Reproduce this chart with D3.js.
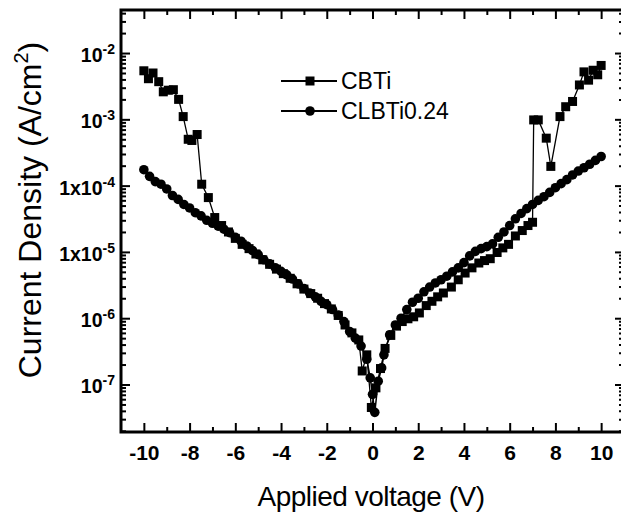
<!DOCTYPE html>
<html>
<head>
<meta charset="utf-8">
<script src="https://cdn.jsdelivr.net/npm/d3@7"></script>
<style>
  html, body { margin: 0; padding: 0; background: #fff; }
  svg { display: block; font-family: "Liberation Sans", Arial, sans-serif; }
</style>
</head>
<body>
<svg id="chart" width="621" height="515"></svg>
<script>
// ---------------- data ----------------
const cbtiV = [-10, -9.8, -9.6, -9.35, -9.15, -8.93, -8.71, -8.48, -8.28, -8.06, -7.9, -7.67, -7.47, -7.18, -6.9,
  -6.6, -6.3, -6.0, -5.7, -5.4, -5.1, -4.8, -4.5, -4.2, -3.9, -3.6, -3.3, -3.0, -2.7, -2.4, -2.1, -1.8, -1.5,
  -1.2, -0.9, -0.6, -0.45, -0.25, -0.05, 0.15, 0.35, 0.55, 0.8, 1.05, 1.3, 1.55, 1.8, 2.05, 2.35, 2.6, 2.85,
  3.1, 3.45, 3.75, 4.05, 4.35, 4.65, 4.9, 5.15, 5.45, 5.7, 5.95, 6.25, 6.55, 6.8, 7.0, 7.05, 7.25, 7.6, 7.8,
  8.2, 8.45, 8.75, 9.05, 9.25, 9.45, 9.65, 9.85, 10.0];
const cbtiJ = [5.4e-3, 4.1e-3, 5.0e-3, 3.7e-3, 2.6e-3, 2.75e-3, 2.8e-3, 2.0e-3, 1.1e-3, 5.0e-4, 4.8e-4, 5.9e-4, 1.05e-4, 6.6e-5, 3.3e-5,
  2.5e-5, 2.0e-5, 1.6e-5, 1.3e-5, 1.12e-5, 9.3e-6, 7.6e-6, 6.5e-6, 5.5e-6, 4.7e-6, 4.0e-6, 3.3e-6, 2.75e-6, 2.35e-6, 2.0e-6, 1.66e-6, 1.38e-6, 1.1e-6,
  7.9e-7, 6.0e-7, 4.7e-7, 1.6e-7, 2.8e-7, 4.5e-8, 8.9e-8, 1.74e-7, 3.5e-7, 5.5e-7, 7.6e-7, 8.9e-7, 9.8e-7, 1.05e-6, 1.2e-6, 1.55e-6, 1.8e-6, 2.1e-6,
  2.4e-6, 2.95e-6, 3.8e-6, 4.8e-6, 5.75e-6, 6.8e-6, 7.4e-6, 7.9e-6, 9.8e-6, 1.15e-5, 1.3e-5, 1.74e-5, 2.1e-5, 2.5e-5, 2.8e-5, 9.8e-4, 9.8e-4, 5.2e-4, 1.95e-4,
  1.1e-3, 1.55e-3, 1.86e-3, 3.3e-3, 5.2e-3, 3.9e-3, 5.5e-3, 4.7e-3, 6.5e-3];

const clbtiV = [-10, -9.75, -9.5, -9.25, -9.0, -8.75, -8.5, -8.25, -8.0, -7.75, -7.5, -7.25, -7.0, -6.75, -6.5, -6.25,
  -6.0, -5.75, -5.5, -5.25, -5.0, -4.75, -4.5, -4.25, -4.0, -3.75, -3.5, -3.25, -3.0, -2.75, -2.5, -2.25, -2.0,
  -1.75, -1.5, -1.25, -1.0, -0.75, -0.5, -0.25, -0.1, 0.0, 0.1, 0.25, 0.4, 0.5, 0.75, 1.0, 1.25, 1.5, 1.75, 2.0,
  2.25, 2.5, 2.75, 3.0, 3.25, 3.5, 3.75, 4.0, 4.25, 4.5, 4.75, 5.0, 5.25, 5.5, 5.75, 6.0, 6.25, 6.5, 6.75, 7.0,
  7.25, 7.5, 7.75, 8.0, 8.25, 8.5, 8.75, 9.0, 9.25, 9.5, 9.75, 10.0];
const clbtiJ = [1.74e-4, 1.38e-4, 1.15e-4, 1.05e-4, 8.9e-5, 7.1e-5, 6.2e-5, 5.2e-5, 4.6e-5, 3.9e-5, 3.5e-5, 3.0e-5, 2.7e-5, 2.45e-5, 2.2e-5, 1.95e-5,
  1.66e-5, 1.45e-5, 1.23e-5, 1.05e-5, 9.1e-6, 7.6e-6, 6.6e-6, 5.75e-6, 5.1e-6, 4.5e-6, 3.9e-6, 3.3e-6, 2.8e-6, 2.4e-6, 2.1e-6, 1.8e-6, 1.6e-6,
  1.35e-6, 1.12e-6, 8.9e-7, 6.3e-7, 5.0e-7, 3.8e-7, 2.4e-7, 1.26e-7, 7.1e-8, 3.8e-8, 1.12e-7, 1.78e-7, 2.8e-7, 5.6e-7, 7.9e-7, 1.0e-6, 1.35e-6, 1.74e-6, 2.0e-6,
  2.5e-6, 2.95e-6, 3.4e-6, 3.8e-6, 4.3e-6, 5.0e-6, 5.75e-6, 6.9e-6, 8.7e-6, 1.02e-5, 1.12e-5, 1.2e-5, 1.32e-5, 1.66e-5, 2.0e-5, 2.5e-5, 3.16e-5, 3.8e-5, 4.5e-5, 5.2e-5,
  6.0e-5, 6.8e-5, 7.9e-5, 9.3e-5, 1.07e-4, 1.23e-4, 1.45e-4, 1.66e-4, 1.86e-4, 2.1e-4, 2.4e-4, 2.75e-4];

const seriesNames = ["CBTi", "CLBTi0.24"];

const xMajorTicks = [-10, -8, -6, -4, -2, 0, 2, 4, 6, 8, 10];
const xMinorTicks = [-9, -7, -5, -3, -1, 1, 3, 5, 7, 9];
const yMajorTicks = [1e-2, 1e-3, 1e-4, 1e-5, 1e-6, 1e-7];
const yTickBase = ["10", "10", "1x10", "1x10", "10", "10"];
const yTickExp = ["-2", "-3", "-4", "-5", "-6", "-7"];
const xTitle = "Applied voltage (V)";
const yTitle = "Current Density (A/cm";

// ---------------- layout ----------------
const svg = d3.select("#chart");
const L = 121, R = 624, T = 10, B = 432;
const x = d3.scaleLinear().domain([-11, 11]).range([L, R]);
const y = d3.scaleLog().domain([1.92e-8, 4.46e-2]).range([B, T]);

const yMinor = [];
[-9, -8, -7, -6, -5, -4, -3, -2].forEach(e => {
  for (let m = 2; m <= 9; m++) {
    const v = m * Math.pow(10, e);
    if (v > y.domain()[0] && v < y.domain()[1]) yMinor.push(v);
  }
});

function styleAxis(g) {
  g.select(".domain").remove();
  g.selectAll(".tick line").attr("stroke", "#000").attr("stroke-width", 2);
}

// minor ticks
svg.append("g").attr("transform", `translate(0,${B})`)
  .call(d3.axisBottom(x).tickValues(xMinorTicks).tickSize(-5).tickFormat(""))
  .call(styleAxis);
svg.append("g").attr("transform", `translate(0,${T})`)
  .call(d3.axisTop(x).tickValues(xMinorTicks).tickSize(-5).tickFormat(""))
  .call(styleAxis);
svg.append("g").attr("transform", `translate(${L},0)`)
  .call(d3.axisLeft(y).tickValues(yMinor).tickSize(-5).tickFormat(""))
  .call(styleAxis);
svg.append("g").attr("transform", `translate(${R},0)`)
  .call(d3.axisRight(y).tickValues(yMinor).tickSize(-5).tickFormat(""))
  .call(styleAxis);

// major ticks
const xb = svg.append("g").attr("transform", `translate(0,${B})`)
  .call(d3.axisBottom(x).tickValues(xMajorTicks).tickSize(-9).tickPadding(13).tickFormat(d => String(d)))
  .call(styleAxis);
xb.selectAll("text").attr("fill", "#000").attr("font-size", 21).attr("font-weight", "bold")
  .attr("font-family", "Liberation Sans, Arial, sans-serif");
svg.append("g").attr("transform", `translate(0,${T})`)
  .call(d3.axisTop(x).tickValues(xMajorTicks).tickSize(-9).tickFormat(""))
  .call(styleAxis);
svg.append("g").attr("transform", `translate(${L},0)`)
  .call(d3.axisLeft(y).tickValues(yMajorTicks).tickSize(-9).tickFormat(""))
  .call(styleAxis);
svg.append("g").attr("transform", `translate(${R},0)`)
  .call(d3.axisRight(y).tickValues(yMajorTicks).tickSize(-9).tickFormat(""))
  .call(styleAxis);

// y tick labels with superscripts
const yl = svg.append("g").attr("font-weight", "bold").attr("fill", "#000");
yMajorTicks.forEach((v, i) => {
  const t = yl.append("text").attr("x", 115).attr("y", y(v) + 9).attr("text-anchor", "end");
  t.append("tspan").attr("font-size", 19.5).text(yTickBase[i]);
  t.append("tspan").attr("font-size", 14).attr("dy", -8).text(yTickExp[i]);
});

// frame
svg.append("rect").attr("x", L).attr("y", T).attr("width", R - L).attr("height", B - T)
  .attr("fill", "none").attr("stroke", "#000").attr("stroke-width", 3);

// data
const plot = svg.append("g");
const line = d3.line().x(d => x(d[0])).y(d => y(d[1]));
const cbti = cbtiV.map((v, i) => [v, cbtiJ[i]]);
const clbti = clbtiV.map((v, i) => [v, clbtiJ[i]]);

plot.append("path").datum(clbti).attr("d", line).attr("fill", "none").attr("stroke", "#000").attr("stroke-width", 1.5);
plot.append("path").datum(cbti).attr("d", line).attr("fill", "none").attr("stroke", "#000").attr("stroke-width", 1.3);
plot.selectAll(".c").data(clbti).join("circle").attr("cx", d => x(d[0])).attr("cy", d => y(d[1]))
  .attr("r", 4.8).attr("fill", "#000");
const s = 9;
plot.selectAll(".s").data(cbti).join("rect").attr("x", d => x(d[0]) - s / 2).attr("y", d => y(d[1]) - s / 2)
  .attr("width", s).attr("height", s).attr("fill", "#000");

// legend
const lg = svg.append("g");
const legendY = [81, 111];
seriesNames.forEach((name, i) => {
  const gy = legendY[i];
  lg.append("line").attr("x1", 281).attr("x2", 337).attr("y1", gy).attr("y2", gy).attr("stroke", "#000").attr("stroke-width", 1.8);
  if (i === 0) lg.append("rect").attr("x", 305.5).attr("y", gy - 4.5).attr("width", 9).attr("height", 9).attr("fill", "#000");
  else lg.append("circle").attr("cx", 310).attr("cy", gy).attr("r", 4.8).attr("fill", "#000");
  lg.append("text").attr("x", 341).attr("y", gy + 8).attr("font-size", 23).attr("fill", "#000").text(name);
});

// axis titles
svg.append("text").attr("x", 371).attr("y", 506).attr("text-anchor", "middle")
  .attr("font-size", 28).attr("fill", "#000").attr("letter-spacing", -0.5).text(xTitle);
const yt = svg.append("text").attr("transform", "translate(41,210) rotate(-90)")
  .attr("text-anchor", "middle").attr("font-size", 32).attr("fill", "#000");
yt.append("tspan").text(yTitle);
yt.append("tspan").attr("font-size", 20).attr("dy", -13).text("2");
yt.append("tspan").attr("dy", 13).text(")");
</script>
</body>
</html>
